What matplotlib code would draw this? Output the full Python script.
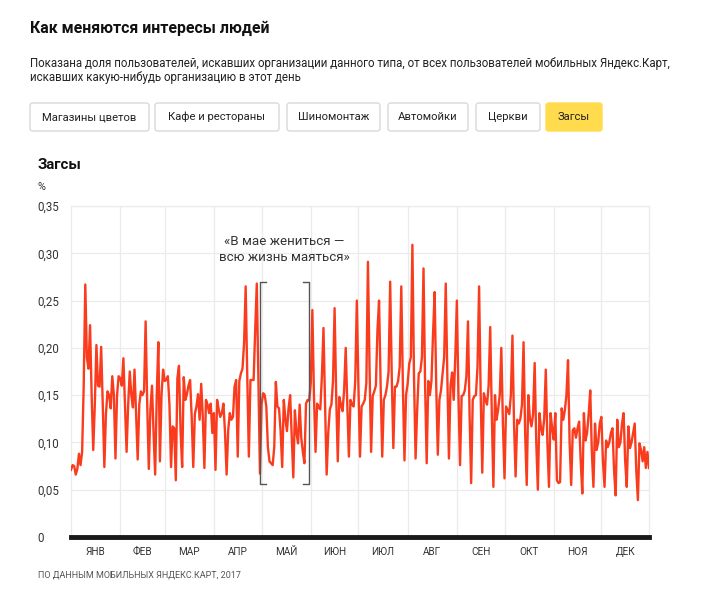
import matplotlib.pyplot as plt
from matplotlib.patches import FancyBboxPatch

plt.rcParams['font.family'] = ['Roboto', 'DejaVu Sans']

# share of Yandex.Maps mobile users searching for ZAGS, % (2017, one row = one week, Sun..Sat)
zags_share = [
    0.071, 0.076, 0.075, 0.066, 0.072, 0.088, 0.076,
    0.090, 0.160, 0.267, 0.190, 0.178, 0.224, 0.150,
    0.092, 0.140, 0.203, 0.160, 0.159, 0.201, 0.140,
    0.074, 0.130, 0.154, 0.150, 0.136, 0.170, 0.150,
    0.083, 0.150, 0.170, 0.168, 0.160, 0.189, 0.140,
    0.090, 0.140, 0.175, 0.150, 0.137, 0.177, 0.130,
    0.082, 0.140, 0.154, 0.150, 0.154, 0.228, 0.140,
    0.072, 0.135, 0.160, 0.110, 0.066, 0.150, 0.206,
    0.080, 0.150, 0.177, 0.165, 0.166, 0.170, 0.140,
    0.074, 0.117, 0.115, 0.060, 0.168, 0.181, 0.112,
    0.074, 0.169, 0.145, 0.151, 0.160, 0.166, 0.127,
    0.074, 0.130, 0.138, 0.151, 0.124, 0.162, 0.127,
    0.073, 0.145, 0.140, 0.131, 0.141, 0.110, 0.131,
    0.071, 0.145, 0.135, 0.127, 0.131, 0.141, 0.110,
    0.066, 0.113, 0.131, 0.124, 0.127, 0.159, 0.166,
    0.085, 0.165, 0.173, 0.178, 0.205, 0.265, 0.170,
    0.085, 0.166, 0.166, 0.166, 0.219, 0.268, 0.170,
    0.067, 0.140, 0.152, 0.150, 0.138, 0.095, 0.080,
    0.078, 0.076, 0.095, 0.164, 0.138, 0.136, 0.112,
    0.074, 0.145, 0.125, 0.112, 0.136, 0.150, 0.105,
    0.063, 0.134, 0.110, 0.099, 0.140, 0.105, 0.090,
    0.078, 0.141, 0.145, 0.144, 0.163, 0.240, 0.150,
    0.090, 0.141, 0.137, 0.135, 0.170, 0.221, 0.140,
    0.066, 0.110, 0.135, 0.140, 0.165, 0.242, 0.150,
    0.080, 0.148, 0.140, 0.133, 0.155, 0.200, 0.140,
    0.085, 0.145, 0.140, 0.138, 0.165, 0.250, 0.160,
    0.085, 0.138, 0.141, 0.145, 0.163, 0.291, 0.180,
    0.090, 0.149, 0.154, 0.160, 0.219, 0.250, 0.160,
    0.085, 0.145, 0.150, 0.159, 0.175, 0.270, 0.170,
    0.094, 0.159, 0.159, 0.165, 0.180, 0.265, 0.160,
    0.081, 0.150, 0.162, 0.183, 0.190, 0.309, 0.170,
    0.083, 0.134, 0.173, 0.175, 0.190, 0.284, 0.160,
    0.078, 0.165, 0.150, 0.165, 0.215, 0.259, 0.160,
    0.087, 0.145, 0.155, 0.173, 0.190, 0.268, 0.170,
    0.083, 0.160, 0.174, 0.145, 0.190, 0.250, 0.150,
    0.076, 0.149, 0.150, 0.155, 0.170, 0.228, 0.130,
    0.057, 0.145, 0.149, 0.150, 0.180, 0.265, 0.150,
    0.068, 0.152, 0.145, 0.140, 0.160, 0.222, 0.130,
    0.053, 0.150, 0.124, 0.135, 0.150, 0.200, 0.120,
    0.062, 0.138, 0.134, 0.130, 0.150, 0.213, 0.120,
    0.064, 0.124, 0.120, 0.125, 0.140, 0.206, 0.110,
    0.055, 0.150, 0.125, 0.117, 0.130, 0.184, 0.100,
    0.050, 0.131, 0.115, 0.108, 0.125, 0.177, 0.100,
    0.053, 0.131, 0.115, 0.103, 0.131, 0.060, 0.057,
    0.058, 0.136, 0.124, 0.134, 0.150, 0.187, 0.100,
    0.055, 0.113, 0.115, 0.105, 0.115, 0.122, 0.080,
    0.046, 0.131, 0.102, 0.110, 0.130, 0.155, 0.090,
    0.053, 0.120, 0.092, 0.100, 0.120, 0.127, 0.080,
    0.053, 0.102, 0.095, 0.100, 0.110, 0.115, 0.070,
    0.044, 0.124, 0.095, 0.100, 0.120, 0.131, 0.080,
    0.053, 0.117, 0.094, 0.100, 0.110, 0.120, 0.070,
    0.039, 0.099, 0.092, 0.080, 0.095, 0.073, 0.090,
    0.073,
]

months = ['ЯНВ', 'ФЕВ', 'МАР', 'АПР', 'МАЙ', 'ИЮН',
          'ИЮЛ', 'АВГ', 'СЕН', 'ОКТ', 'НОЯ', 'ДЕК']
month_days = [31, 28, 31, 30, 31, 30, 31, 31, 30, 31, 30, 31]
y_ticks = [0, 0.05, 0.10, 0.15, 0.20, 0.25, 0.30, 0.35]
buttons = ['Магазины цветов', 'Кафе и рестораны', 'Шиномонтаж',
           'Автомойки', 'Церкви', 'Загсы']
may_days = (119, 150)   # bracket around May

W, H = 712, 604
fig = plt.figure(figsize=(W / 100, H / 100), dpi=100)

def px(x, y):
    return x / W, 1 - y / H

# header
fig.text(*px(30, 28), 'Как меняются интересы людей', fontsize=11.4,
         fontweight='bold', color='#111', va='center')
fig.text(*px(30, 63), 'Показана доля пользователей, искавших организации данного типа, '
         'от всех пользователей мобильных Яндекс.Карт,', fontsize=8.3,
         color='#222', va='center')
fig.text(*px(30, 78), 'искавших какую-нибудь организацию в этот день', fontsize=8.3,
         color='#222', va='center')

# buttons
btn_x = [30, 155, 287, 388, 476, 546]
btn_w = [119, 124, 93, 80, 64, 56]
for i, name in enumerate(buttons):
    active = name == 'Загсы'
    x0, y0 = px(btn_x[i], 131)
    box = FancyBboxPatch((x0, y0), btn_w[i] / W, 28 / H,
                         boxstyle='round,pad=0,rounding_size=0.004',
                         transform=fig.transFigure,
                         facecolor='#ffdb4d' if active else 'white',
                         edgecolor='#ffdb4d' if active else '#d9d9d9', linewidth=1)
    fig.patches.append(box)
    fig.text(*px(btn_x[i] + btn_w[i] / 2, 117), name, fontsize=8.1,
             color='#222', ha='center', va='center')

# chart
fig.text(*px(38, 165), 'Загсы', fontsize=10.8, fontweight='bold',
         color='#111', va='center')
fig.text(*px(38, 187), '%', fontsize=7.8, color='#333', va='center')

ax = fig.add_axes([71 / W, (H - 537) / H, 578 / W, 331 / H])
days = list(range(len(zags_share)))
ax.plot(days, zags_share, color='#fa3c1e', linewidth=1.7, zorder=3,
        solid_joinstyle='round')

ax.set_xlim(0, len(zags_share) - 1)
ax.set_ylim(0, 0.35)

starts = [0]
for n in month_days:
    starts.append(starts[-1] + n)
ax.set_xticks(starts[1:-1], minor=True)
ax.set_xticks([(starts[i] + starts[i + 1]) / 2 for i in range(12)])
ax.set_xticklabels(months, fontsize=7.2, color='#333')
ax.set_yticks(y_ticks)
ax.set_yticklabels(['0' if v == 0 else f'{v:.2f}'.replace('.', ',') for v in y_ticks],
                   fontsize=8.3, color='#333', ha='left')
ax.tick_params(axis='y', length=0, pad=24)
ax.tick_params(axis='x', which='both', length=0, pad=7)
ax.grid(axis='y', color='#ebebeb', linewidth=0.9)
ax.grid(axis='x', which='minor', color='#ebebeb', linewidth=0.9)
for s in ['top', 'left', 'right']:
    ax.spines[s].set_color('#ebebeb')
    ax.spines[s].set_linewidth(0.9)
ax.spines['bottom'].set_color('#1a1a1a')
ax.spines['bottom'].set_linewidth(3.5)
ax.set_axisbelow(True)

# May bracket and note
b0, b1 = may_days
top, bot = 0.27, 0.056
tick = 4
ax.plot([b0 + tick, b0, b0, b0 + tick], [top, top, bot, bot], color='#555', linewidth=1, zorder=4)
ax.plot([b1 - tick, b1, b1, b1 - tick], [top, top, bot, bot], color='#555', linewidth=1, zorder=4)
ax.text((b0 + b1) / 2, 0.289, '«В мае жениться —\nвсю жизнь маяться»', fontsize=9.6,
        color='#333', ha='center', va='bottom', linespacing=1.25)

fig.text(*px(38, 575), 'ПО ДАННЫМ МОБИЛЬНЫХ ЯНДЕКС.КАРТ, 2017', fontsize=6.5,
         color='#555', va='center')

fig.savefig('out.png', dpi=100)
